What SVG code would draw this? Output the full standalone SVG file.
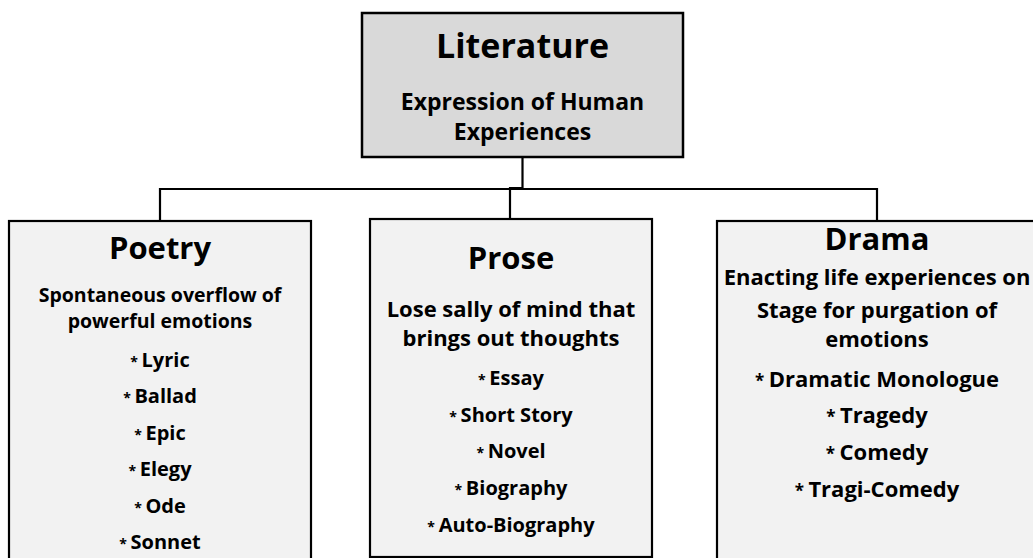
<svg xmlns="http://www.w3.org/2000/svg" width="1033" height="558" viewBox="0 0 1033 558">
<style>
text{font-family:"Open Sans","Liberation Sans",sans-serif;font-weight:bold;fill:#000;text-anchor:middle}
.box{fill:#f2f2f2;stroke:#000;stroke-width:2.2}
.top{fill:#d9d9d9;stroke:#000;stroke-width:2.5}
.title{font-size:31px}
.t1{font-size:34px}
.exp{font-size:23px}
.psub{font-size:19.5px}
.sub{font-size:22px}
.item{font-size:20px}
.ditem{font-size:22px}
.ast{font-size:14px}
.dast{font-size:17px}
.conn{fill:none;stroke:#000;stroke-width:2.2}
</style>
<rect width="1033" height="558" fill="#fff"/>
<g id="connectors">
<path class="conn" d="M522.5 157 V188 H510 V220"/>
<path class="conn" d="M160 221 V189 H877 V221"/>
</g>
<g id="literature">
<rect class="top" x="362" y="13" width="321" height="144"/>
<text class="t1" x="522.5" y="58">Literature</text>
<text class="exp" x="522.5" y="110">Expression of Human</text>
<text class="exp" x="522.5" y="140">Experiences</text>
</g>
<g id="poetry">
<rect class="box" x="9" y="221" width="302" height="345"/>
<text class="title" x="160" y="259">Poetry</text>
<text class="psub" x="160" y="302">Spontaneous overflow of</text>
<text class="psub" x="160" y="328">powerful emotions</text>
<text class="item" x="160" y="367"><tspan class="ast">* </tspan>Lyric</text>
<text class="item" x="160" y="403"><tspan class="ast">* </tspan>Ballad</text>
<text class="item" x="160" y="440"><tspan class="ast">* </tspan>Epic</text>
<text class="item" x="160" y="476"><tspan class="ast">* </tspan>Elegy</text>
<text class="item" x="160" y="513"><tspan class="ast">* </tspan>Ode</text>
<text class="item" x="160" y="549"><tspan class="ast">* </tspan>Sonnet</text>
</g>
<g id="prose">
<rect class="box" x="370" y="219" width="282" height="338"/>
<text class="title" x="511" y="269">Prose</text>
<text class="sub" x="511" y="317">Lose sally of mind that</text>
<text class="sub" x="511" y="346">brings out thoughts</text>
<text class="item" x="511" y="385"><tspan class="ast">* </tspan>Essay</text>
<text class="item" x="511" y="422"><tspan class="ast">* </tspan>Short Story</text>
<text class="item" x="511" y="458"><tspan class="ast">* </tspan>Novel</text>
<text class="item" x="511" y="495"><tspan class="ast">* </tspan>Biography</text>
<text class="item" x="511" y="532"><tspan class="ast">* </tspan>Auto-Biography</text>
</g>
<g id="drama">
<rect class="box" x="717" y="221" width="330" height="345"/>
<text class="title" x="877" y="250">Drama</text>
<text class="sub" x="877" y="285">Enacting life experiences on</text>
<text class="sub" x="877" y="318">Stage for purgation of</text>
<text class="sub" x="877" y="347">emotions</text>
<text class="ditem" x="877" y="387"><tspan class="dast">* </tspan>Dramatic Monologue</text>
<text class="ditem" x="877" y="423"><tspan class="dast">* </tspan>Tragedy</text>
<text class="ditem" x="877" y="460"><tspan class="dast">* </tspan>Comedy</text>
<text class="ditem" x="877" y="497"><tspan class="dast">* </tspan>Tragi-Comedy</text>
</g>
</svg>
